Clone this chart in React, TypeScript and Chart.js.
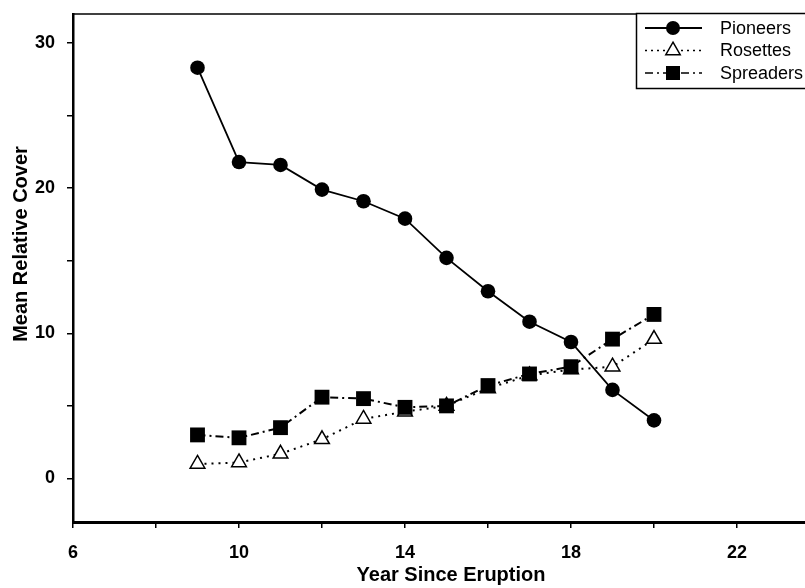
import React, { useEffect, useRef } from "react";
import { Chart, registerables } from "chart.js";

Chart.register(...registerables);

const years = [9, 10, 11, 12, 13, 14, 15, 16, 17, 18, 19, 20];
const pioneers = [28.3, 21.8, 21.6, 19.9, 19.1, 17.9, 15.2, 12.9, 10.8, 9.4, 6.1, 4.0];
const rosettes = [1.0, 1.1, 1.7, 2.7, 4.1, 4.6, 5.0, 6.2, 7.1, 7.5, 7.7, 9.6];
const spreaders = [3.0, 2.8, 3.5, 5.6, 5.5, 4.9, 5.0, 6.4, 7.2, 7.7, 9.6, 11.3];
const seriesNames = ["Pioneers", "Rosettes", "Spreaders"];
const xTicks = [6, 8, 10, 12, 14, 16, 18, 20, 22, 24];
const xLabelled = [6, 10, 14, 18, 22];
const yTicks = [0, 5, 10, 15, 20, 25, 30];
const yLabelled = [0, 10, 20, 30];
const xTitle = "Year Since Eruption";
const yTitle = "Mean Relative Cover";

const FONT = "'Liberation Sans', Arial, sans-serif";

function drawMarker(ctx: CanvasRenderingContext2D, kind: string, x: number, y: number) {
  ctx.save();
  ctx.lineWidth = 1.5;
  ctx.strokeStyle = "#000";
  if (kind === "circle") {
    ctx.fillStyle = "#000";
    ctx.beginPath();
    ctx.arc(x, y, 7, 0, Math.PI * 2);
    ctx.fill();
  } else if (kind === "triangle") {
    const r = 8.3;
    ctx.fillStyle = "#fff";
    ctx.beginPath();
    ctx.moveTo(x, y - r);
    ctx.lineTo(x + r * Math.cos(Math.PI / 6), y + r / 2);
    ctx.lineTo(x - r * Math.cos(Math.PI / 6), y + r / 2);
    ctx.closePath();
    ctx.fill();
    ctx.stroke();
  } else {
    ctx.fillStyle = "#000";
    ctx.fillRect(x - 7, y - 7, 14, 14);
  }
  ctx.restore();
}

const decorPlugin = {
  id: "decor",
  afterDraw(chart: any) {
    const ctx: CanvasRenderingContext2D = chart.ctx;
    const a = chart.chartArea;
    ctx.save();
    // top frame line
    ctx.strokeStyle = "#000";
    ctx.lineWidth = 1.5;
    ctx.beginPath();
    ctx.moveTo(a.left, a.top);
    ctx.lineTo(a.right + 40, a.top);
    ctx.stroke();

    // axis titles
    ctx.fillStyle = "#000";
    ctx.font = `bold 20px ${FONT}`;
    ctx.textAlign = "center";
    ctx.textBaseline = "middle";
    ctx.fillText(xTitle, 451, 575);
    ctx.save();
    ctx.translate(21, 244);
    ctx.rotate(-Math.PI / 2);
    ctx.fillText(yTitle, 0, 0);
    ctx.restore();

    // legend
    const bx = 636.5, by = 13.5;
    ctx.fillStyle = "#fff";
    ctx.fillRect(bx, by, 220, 75);
    ctx.lineWidth = 1.5;
    ctx.strokeStyle = "#000";
    ctx.strokeRect(bx, by, 220, 75);
    const rows = [28, 50.5, 73];
    const dashes = [[], [2, 4], [8, 4, 2, 4]];
    const kinds = ["circle", "triangle", "rect"];
    for (let i = 0; i < 3; i++) {
      const y = rows[i];
      ctx.save();
      ctx.lineWidth = i === 0 ? 1.8 : 1.3;
      ctx.setLineDash(dashes[i]);
      ctx.beginPath();
      ctx.moveTo(645, y);
      ctx.lineTo(702, y);
      ctx.stroke();
      ctx.restore();
      drawMarker(ctx, kinds[i], 673, y);
      ctx.fillStyle = "#000";
      ctx.font = `18px ${FONT}`;
      ctx.textAlign = "left";
      ctx.textBaseline = "middle";
      ctx.fillText(seriesNames[i], 720, y + 1);
    }
    ctx.restore();
  },
};

export default function App() {
  const ref = useRef<HTMLCanvasElement>(null);
  useEffect(() => {
    document.body.style.margin = "0";
    const pts = (arr: number[]) => arr.map((v, i) => ({ x: years[i], y: v }));
    const chart = new Chart(ref.current as HTMLCanvasElement, {
      type: "line",
      data: {
        datasets: [
          {
            label: seriesNames[0],
            data: pts(pioneers),
            borderColor: "#000",
            backgroundColor: "#000",
            borderWidth: 1.8,
            pointStyle: "circle",
            pointRadius: 7.3,
            pointBorderWidth: 0,
            pointBackgroundColor: "#000",
            order: 0,
          },
          {
            label: seriesNames[1],
            data: pts(rosettes),
            borderColor: "#000",
            borderWidth: 2,
            borderDash: [2, 5],
            pointStyle: "triangle",
            pointRadius: 8.5,
            pointBorderWidth: 1.5,
            pointBorderColor: "#000",
            pointBackgroundColor: "#fff",
            order: 2,
          },
          {
            label: seriesNames[2],
            data: pts(spreaders),
            borderColor: "#000",
            borderWidth: 2,
            borderDash: [8, 4, 2, 4],
            pointStyle: "rect",
            pointRadius: 10.5,
            pointBorderWidth: 0,
            pointBackgroundColor: "#000",
            order: 1,
          },
        ],
      },
      options: {
        animation: false,
        responsive: false,
        maintainAspectRatio: false,
        layout: { padding: { top: 14, right: 40, left: 0, bottom: 0 } },
        plugins: { legend: { display: false }, tooltip: { enabled: false } },
        scales: {
          x: {
            type: "linear",
            min: 6,
            max: 24,
            afterBuildTicks: (s: any) => {
              s.ticks = xTicks.map((v) => ({ value: v }));
            },
            afterFit: (s: any) => {
              s.height = 66;
              s.paddingLeft = 0;
              s.paddingRight = 0;
            },
            ticks: {
              autoSkip: false,
              maxRotation: 0,
              color: "#000",
              padding: 14,
              font: { family: FONT, size: 18, weight: "bold" },
              callback: (v: any) => (xLabelled.includes(Number(v)) ? String(v) : ""),
            },
            grid: {
              drawOnChartArea: false,
              drawTicks: true,
              tickLength: 6,
              color: "#000",
              lineWidth: 1.5,
            },
            border: { display: true, color: "#000", width: 3 },
          },
          y: {
            type: "linear",
            min: -3,
            max: 32,
            afterBuildTicks: (s: any) => {
              s.ticks = yTicks.map((v) => ({ value: v }));
            },
            afterFit: (s: any) => {
              s.width = 73;
              s.paddingTop = 0;
              s.paddingBottom = 0;
            },
            ticks: {
              autoSkip: false,
              color: "#000",
              padding: 12,
              font: { family: FONT, size: 18, weight: "bold" },
              callback: (v: any) => (yLabelled.includes(Number(v)) ? String(v) : ""),
            },
            grid: {
              drawOnChartArea: false,
              drawTicks: true,
              tickLength: 6,
              color: "#000",
              lineWidth: 1.5,
            },
            border: { display: true, color: "#000", width: 2.5 },
          },
        },
      },
      plugins: [decorPlugin],
    } as any);
    return () => chart.destroy();
  }, []);
  return (
    <div
      style={{
        position: "fixed",
        left: 0,
        top: 0,
        width: 805,
        height: 588,
        overflow: "hidden",
        background: "#fff",
      }}
    >
      <canvas ref={ref} width={860} height={588} style={{ width: 860, height: 588, display: "block" }} />
    </div>
  );
}
